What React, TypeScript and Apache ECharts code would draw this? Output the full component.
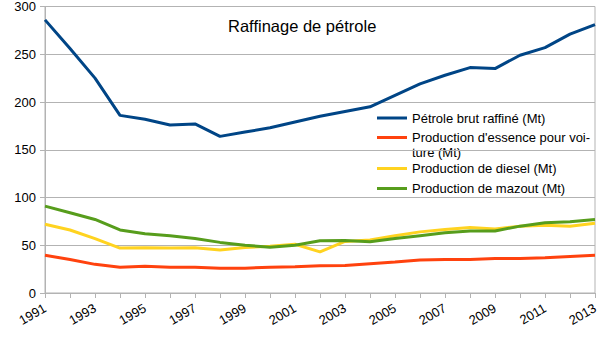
import React, { useEffect, useRef } from "react";
import * as echarts from "echarts";

const years = ["1991","1992","1993","1994","1995","1996","1997","1998","1999","2000","2001","2002","2003","2004","2005","2006","2007","2008","2009","2010","2011","2012","2013"];
const petroleBrut = [286, 256, 225, 186, 182, 176, 177, 164, 168.5, 173, 179, 185, 190, 195, 207, 219, 228, 236, 235, 249, 257, 271, 281];
const essence = [39.5, 35, 30, 27, 28, 27, 27, 26, 26, 27, 27.5, 28.5, 28.8, 30.7, 32.4, 34.5, 35, 35, 36, 36, 37, 38.3, 39.5];
const diesel = [72, 66, 57, 47, 47.5, 47, 47.5, 45, 47.6, 49, 51, 43, 54, 55.4, 60, 64, 66.5, 68.6, 67, 70, 71, 70, 73];
const mazout = [91, 84, 77, 66, 62, 60, 57, 53, 50, 48, 50, 54.7, 55, 53.7, 57, 60, 63, 64.8, 65, 70, 73.5, 74.5, 77];

const seriesNames = [
  "Pétrole brut raffiné (Mt)",
  "Production d'essence pour voiture (Mt)",
  "Production de diesel (Mt)",
  "Production de mazout (Mt)",
];
const legendFirstLine = [
  "Pétrole brut raffiné (Mt)",
  "Production d'essence pour voi-",
  "Production de diesel (Mt)",
  "Production de mazout (Mt)",
];
const legendSecondLine = "ture (Mt)";
const legendCenters = [118, 137.5, 168.5, 188.5];
const colors = ["#004586", "#ff420e", "#ffd320", "#579d1c"];
const FONT = "Liberation Sans, Arial, sans-serif";

export default function App() {
  const ref = useRef<HTMLDivElement>(null);
  useEffect(() => {
    if (!ref.current) return;
    const chart = echarts.init(ref.current, undefined, { renderer: "svg" });
    const data = [petroleBrut, essence, diesel, mazout];
    chart.setOption({
      animation: false,
      textStyle: { fontFamily: FONT },
      title: {
        text: "Raffinage de pétrole",
        left: 228,
        top: 17,
        padding: 0,
        textStyle: { fontSize: 16.5, fontWeight: "normal", color: "#000", fontFamily: FONT },
      },
      grid: {
        left: 45,
        right: 10,
        top: 6,
        bottom: 47,
        show: true,
        borderColor: "#b3b3b3",
        borderWidth: 1,
      },
      legend: seriesNames.map((n, i) => ({
        orient: "vertical",
        left: 377,
        top: legendCenters[i] - 8,
        padding: 0,
        itemWidth: 30,
        itemHeight: 3,
        icon: "rect",
        data: [n],
        formatter: () => legendFirstLine[i],
        textStyle: { fontSize: 13, color: "#000", lineHeight: 16, fontFamily: FONT },
      })),
      graphic: [
        {
          type: "text",
          left: 412,
          top: 146,
          style: { text: legendSecondLine, font: `13px ${FONT}`, fill: "#000" },
        },
      ],
      xAxis: {
        type: "category",
        data: years,
        boundaryGap: false,
        axisLine: { lineStyle: { color: "#b3b3b3" } },
        axisTick: { show: true, interval: 0, length: 5, lineStyle: { color: "#b3b3b3" } },
        axisLabel: {
          interval: 1,
          rotate: 30,
          margin: 14,
          fontSize: 13,
          color: "#000",
          fontFamily: FONT,
        },
      },
      yAxis: {
        type: "value",
        min: 0,
        max: 300,
        interval: 50,
        axisLine: { show: true, lineStyle: { color: "#b3b3b3" } },
        axisTick: { show: true, length: 5, lineStyle: { color: "#b3b3b3" } },
        splitLine: { lineStyle: { color: "#b3b3b3" } },
        axisLabel: { fontSize: 13, color: "#000", margin: 9, fontFamily: FONT },
      },
      series: seriesNames.map((n, i) => ({
        name: n,
        type: "line",
        data: data[i],
        symbol: "none",
        color: colors[i],
        lineStyle: { width: 3, color: colors[i] },
      })),
    });
    return () => chart.dispose();
  }, []);
  return <div ref={ref} style={{ width: 605, height: 340, position: "absolute", left: 0, top: 0 }} />;
}
